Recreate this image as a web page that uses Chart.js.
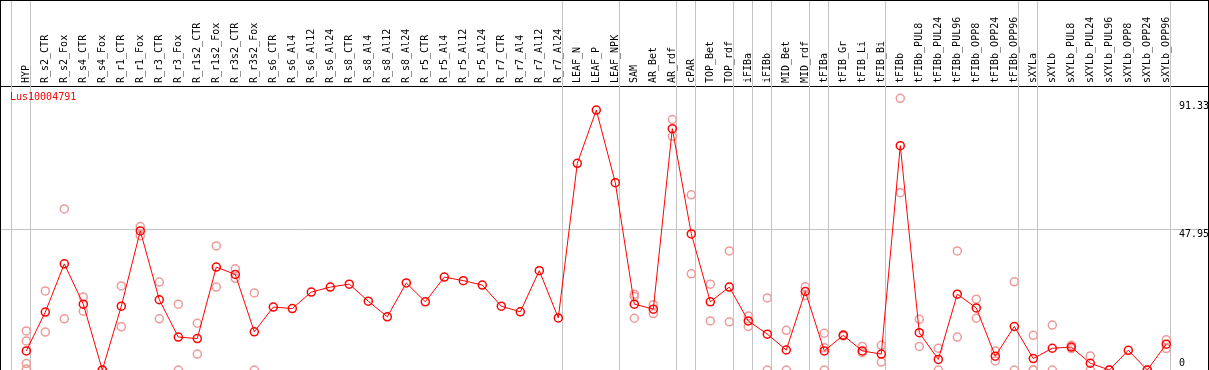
<!DOCTYPE html>
<html>
<head>
<meta charset="utf-8">
<script src="https://cdn.jsdelivr.net/npm/chart.js@4"></script>
<style>
  html, body { margin: 0; padding: 0; background: #fff; }
</style>
</head>
<body>
<canvas id="myChart" width="1209" height="370"></canvas>
<script>
// =============================DATA
let geneName = "Lus10004791";

let labels = ["HYP", "R_s2_CTR", "R_s2_Fox", "R_s4_CTR", "R_s4_Fox", "R_r1_CTR", "R_r1_Fox",
  "R_r3_CTR", "R_r3_Fox", "R_r1s2_CTR", "R_r1s2_Fox", "R_r3s2_CTR", "R_r3s2_Fox",
  "R_s6_CTR", "R_s6_Al4", "R_s6_Al12", "R_s6_Al24", "R_s8_CTR", "R_s8_Al4", "R_s8_Al12", "R_s8_Al24",
  "R_r5_CTR", "R_r5_Al4", "R_r5_Al12", "R_r5_Al24", "R_r7_CTR", "R_r7_Al4", "R_r7_Al12", "R_r7_Al24",
  "LEAF_N", "LEAF_P", "LEAF_NPK", "SAM", "AR_Bet", "AR_rdf", "cPAR", "TOP_Bet", "TOP_rdf",
  "iFIBa", "iFIBb", "MID_Bet", "MID_rdf", "tFIBa", "tFIB_Gr", "tFIB_Li", "tFIB_Bi", "tFIBb",
  "tFIBb_PUL8", "tFIBb_PUL24", "tFIBb_PUL96", "tFIBb_OPP8", "tFIBb_OPP24", "tFIBb_OPP96",
  "sXYLa", "sXYLb", "sXYLb_PUL8", "sXYLb_PUL24", "sXYLb_PUL96", "sXYLb_OPP8", "sXYLb_OPP24", "sXYLb_OPP96"];

// mean expression per sample
let means = [6.5, 19.7, 36.1, 22.4, 0, 21.7, 47.3, 23.9, 11.2, 10.7, 35.0, 32.5, 13.0,
  21.4, 20.9, 26.5, 28.2, 29.2, 23.4, 18.1, 29.6, 23.2, 31.6, 30.4, 28.9, 21.7, 19.8, 33.8, 17.7,
  70.3, 88.4, 63.7, 22.4, 20.7, 82.1, 46.3, 23.2, 28.2, 16.7, 12.2, 6.8, 26.7, 6.5, 11.8, 6.5, 5.4, 76.3,
  12.7, 3.6, 25.8, 21.1, 4.7, 14.8, 3.9, 7.4, 7.8, 2.3, 0, 6.7, 0, 8.8];

// single replicates (pale circles), one list per sample
let replicates = [
  [13.3, 9.9, 2.2, 0.3], [26.9, 12.9], [54.8, 17.4], [24.8, 20.0], [0, 0], [28.6, 14.7], [48.8, 45.7],
  [29.9, 17.4], [22.4, 0], [15.9, 5.4], [42.2, 28.2], [34.4, 31.2], [26.2, 0],
  [], [], [], [], [], [], [], [], [], [], [], [], [], [], [], [],
  [], [], [], [25.8, 25.0, 17.6], [22.2, 19.2], [85.2, 79.5], [59.6, 32.7], [29.2, 16.7], [40.5, 16.4],
  [18.4, 14.8], [24.5, 0], [13.5, 0], [28.3, 25.3], [12.5, 7.6, 0], [12.0, 11.6], [8.0, 5.9], [8.4, 2.7], [92.4, 60.3],
  [17.3, 8.0], [7.4, 0], [40.5, 11.2], [24.1, 17.6], [6.5, 3.1], [30.0, 0],
  [11.8, 0, 0], [15.3, 0], [8.4, 7.3], [4.8, 0], [0, 0], [], [0, 0], [10.3, 7.3]];

// sample index after which a grey separator is drawn
let groupEnds = [-1, 0, 28, 31, 34, 35, 37, 38, 39, 41, 42, 45, 52, 53, 60];

let yTicks = [0, 47.95, 91.33];

// =============================CHART
let meanPoints = means.map((v, i) => ({ x: i, y: v }));
let repPoints = [];
replicates.forEach((list, i) => list.forEach(v => repPoints.push({ x: i, y: v })));

const FONT = "'DejaVu Sans Mono', 'Liberation Mono', monospace";

let decor = {
  id: 'decor',
  beforeDatasetsDraw(chart) {
    let ctx = chart.ctx;
    let x = chart.scales.x;
    ctx.save();
    ctx.strokeStyle = '#c3c3c3';
    ctx.lineWidth = 1;
    groupEnds.forEach(g => {
      let px = Math.round(x.getPixelForValue(g) + 4) + 0.5;
      ctx.beginPath();
      ctx.moveTo(px, 0);
      ctx.lineTo(px, chart.chartArea.bottom);
      ctx.stroke();
    });
    ctx.restore();
  },
  afterDraw(chart) {
    let ctx = chart.ctx;
    let y = chart.scales.y;
    let area = chart.chartArea;
    ctx.save();
    // frame
    ctx.strokeStyle = '#000';
    ctx.lineWidth = 1;
    ctx.strokeRect(0.5, 0.5, chart.width - 1, area.bottom);
    // y tick labels, hanging just below their value
    ctx.fillStyle = '#000';
    ctx.font = '10px ' + FONT;
    ctx.textAlign = 'left';
    ctx.textBaseline = 'middle';
    yTicks.forEach(v => {
      let py = Math.min(y.getPixelForValue(v) + 5, area.bottom - 7);
      ctx.fillText(String(v), 1179, py);
    });
    // gene name
    ctx.fillStyle = '#ff0000';
    ctx.fillText(geneName, 10, 97);
    ctx.restore();
  }
};

let ctx = document.getElementById('myChart').getContext('2d');
let myChart = new Chart(ctx, {
  type: 'line',
  data: {
    datasets: [{
      data: meanPoints,
      borderColor: '#ff0000',
      borderWidth: 1,
      pointRadius: 4,
      pointBorderWidth: 1.5,
      pointBorderColor: '#ff0000',
      pointBackgroundColor: 'rgba(0,0,0,0)',
      tension: 0,
      order: 0
    }, {
      data: repPoints,
      showLine: false,
      pointRadius: 4,
      pointBorderWidth: 1.5,
      pointBorderColor: '#ee9a9a',
      pointBackgroundColor: 'rgba(0,0,0,0)',
      order: 1
    }]
  },
  options: {
    responsive: false,
    animation: false,
    devicePixelRatio: 1,
    layout: { autoPadding: false, padding: { left: 1, right: 1, top: 1, bottom: 0 } },
    plugins: {
      legend: { display: false },
      tooltip: { enabled: false }
    },
    events: [],
    scales: {
      x: {
        type: 'linear',
        position: 'top',
        min: -1.3316,
        max: 62.195,
        afterBuildTicks: s => { s.ticks = labels.map((_, i) => ({ value: i })); },
        afterFit: s => { s.height = 85; },
        grid: { display: false, drawTicks: false },
        border: { display: true, color: '#000', width: 1 },
        ticks: {
          autoSkip: false,
          minRotation: 90,
          maxRotation: 90,
          padding: 3,
          labelOffset: 12,
          color: '#000',
          font: { family: FONT, size: 10 },
          callback: v => labels[v] || ''
        }
      },
      y: {
        position: 'right',
        min: 0,
        max: 96.6,
        afterBuildTicks: s => { s.ticks = yTicks.map(v => ({ value: v })); },
        afterFit: s => { s.width = 0; },
        grid: {
          drawTicks: false,
          color: c => (c.tick && c.tick.value === 47.95) ? '#c3c3c3' : 'rgba(0,0,0,0)'
        },
        border: { display: false },
        ticks: { display: false }
      }
    }
  },
  plugins: [decor]
});
</script>
</body>
</html>
